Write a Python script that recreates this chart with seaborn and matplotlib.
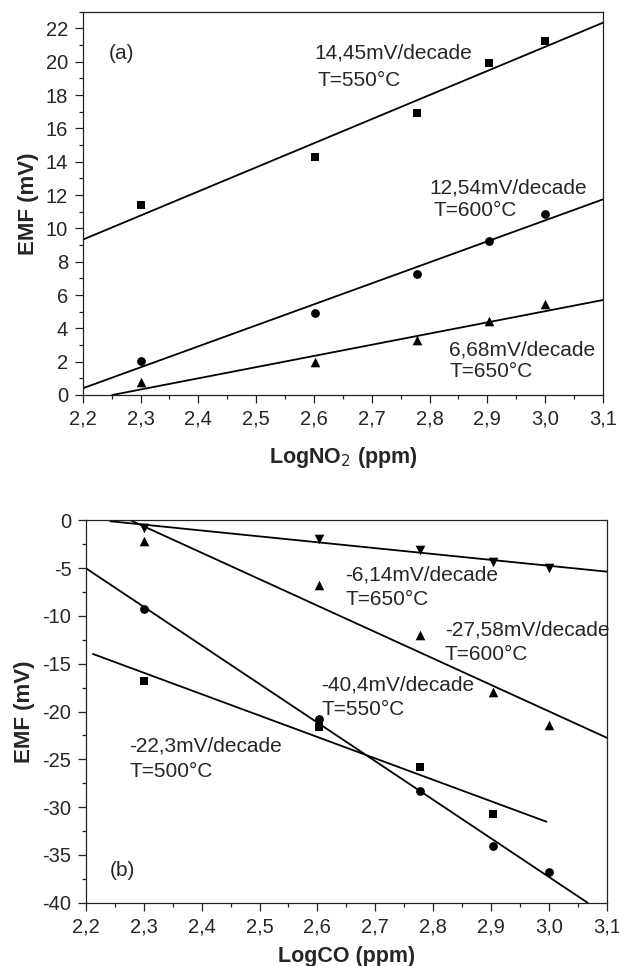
import numpy as np
import pandas as pd
import matplotlib
matplotlib.use('Agg')
import matplotlib.pyplot as plt
from matplotlib.ticker import MultipleLocator
import seaborn as sns

# --- data ---
log_conc = [2.301, 2.602, 2.778, 2.903, 3.0]

# (a) NO2
no2_550 = [11.4, 14.3, 16.95, 19.95, 21.25]
no2_600 = [2.05, 4.95, 7.25, 9.25, 10.85]
no2_650 = [0.75, 2.0, 3.3, 4.45, 5.45]

no2_fit_x = {'550': [2.2, 3.1], '600': [2.2, 3.1], '650': [2.251, 3.1]}
no2_fit_y = {'550': [9.32, 22.34], '600': [0.4, 11.74], '650': [0.0, 5.7]}

no2_text = ['(a)', '14,45mV/decade', 'T=550°C', '12,54mV/decade', 'T=600°C',
            '6,68mV/decade', 'T=650°C']
no2_text_x = [2.245, 2.601, 2.606, 2.80, 2.807, 2.834, 2.834]
no2_text_y = [20.5, 20.5, 18.9, 12.4, 11.06, 2.7, 1.4]

# (b) CO
co_650 = [-0.85, -1.95, -3.15, -4.4, -5.0]
co_600 = [-2.2, -6.8, -12.0, -18.0, -21.4]
co_550 = [-9.3, -20.8, -28.3, -34.1, -36.8]
co_500 = [-16.8, -21.6, -25.8, -30.75]

co_fit_x = {'650': [2.242, 3.1], '600': [2.277, 3.1], '550': [2.2, 3.067], '500': [2.212, 2.996]}
co_fit_y = {'650': [-0.1, -5.37], '600': [0.0, -22.74], '550': [-5.02, -40.0], '500': [-13.98, -31.53]}

co_text = ['-6,14mV/decade', 'T=650°C', '-27,58mV/decade', 'T=600°C',
           '-40,4mV/decade', 'T=550°C', '-22,3mV/decade', 'T=500°C', '(b)']
co_text_x = [2.648, 2.649, 2.82, 2.82, 2.607, 2.607, 2.275, 2.276, 2.241]
co_text_y = [-5.72, -8.33, -11.47, -14.02, -17.23, -19.77, -23.6, -26.3, -36.58]

x_ticks = [2.2, 2.3, 2.4, 2.5, 2.6, 2.7, 2.8, 2.9, 3.0, 3.1]
x_tick_labels = ['2,2', '2,3', '2,4', '2,5', '2,6', '2,7', '2,8', '2,9', '3,0', '3,1']

sns.set_theme(style='ticks')
plt.rcParams['font.family'] = ['Liberation Sans', 'DejaVu Sans']
plt.rcParams['axes.unicode_minus'] = False

fig = plt.figure(figsize=(6.19, 9.66), dpi=100)
ax1 = fig.add_axes([0.1336, 0.5911, 0.8406, 0.3968])
ax2 = fig.add_axes([0.1389, 0.0655, 0.8412, 0.3959])

marker_sizes = {'s': 32, 'o': 40, '^': 48, 'v': 48}


def draw_series(ax, ys, marker, fit_x, fit_y):
    sns.scatterplot(x=log_conc[:len(ys)], y=ys, marker=marker, color='black',
                    s=marker_sizes[marker], linewidth=0, ax=ax, zorder=3)
    sns.lineplot(x=fit_x, y=fit_y, color='black', linewidth=1.3, ax=ax,
                 estimator=None, sort=False, zorder=2)


def style_axes(ax):
    ax.set_xlim(2.2, 3.1)
    ax.set_xticks(x_ticks)
    ax.set_xticklabels(x_tick_labels)
    ax.xaxis.set_minor_locator(MultipleLocator(0.05))
    ax.tick_params(which='major', direction='out', length=5.5, width=0.9,
                   labelsize=14.5, pad=5, color='#222222', top=False, right=False)
    ax.tick_params(which='minor', direction='out', length=3, width=0.9,
                   color='#222222', top=False, right=False)
    for sp in ax.spines.values():
        sp.set_visible(True)
        sp.set_linewidth(0.9)
        sp.set_color('#222222')
    ax.set_ylabel('EMF (mV)', fontsize=16, fontweight='bold', labelpad=5)


# (a)
draw_series(ax1, no2_550, 's', no2_fit_x['550'], no2_fit_y['550'])
draw_series(ax1, no2_600, 'o', no2_fit_x['600'], no2_fit_y['600'])
draw_series(ax1, no2_650, '^', no2_fit_x['650'], no2_fit_y['650'])
style_axes(ax1)
ax1.set_ylim(0, 23)
ax1.yaxis.set_major_locator(MultipleLocator(2))
ax1.yaxis.set_minor_locator(MultipleLocator(1))
ax1.set_xlabel('LogNO$_2$ (ppm)', fontsize=15.5, fontweight='bold', labelpad=12)
for t, tx, ty in zip(no2_text, no2_text_x, no2_text_y):
    ax1.text(tx, ty, t, fontsize=15, ha='left', va='center')

# (b)
draw_series(ax2, co_650, 'v', co_fit_x['650'], co_fit_y['650'])
draw_series(ax2, co_600, '^', co_fit_x['600'], co_fit_y['600'])
draw_series(ax2, co_550, 'o', co_fit_x['550'], co_fit_y['550'])
draw_series(ax2, co_500, 's', co_fit_x['500'], co_fit_y['500'])
style_axes(ax2)
ax2.set_ylim(-40, 0)
ax2.yaxis.set_major_locator(MultipleLocator(5))
ax2.yaxis.set_minor_locator(MultipleLocator(2.5))
ax2.set_xlabel('LogCO (ppm)', fontsize=15.5, fontweight='bold', labelpad=7)
for t, tx, ty in zip(co_text, co_text_x, co_text_y):
    ax2.text(tx, ty, t, fontsize=15, ha='left', va='center')

fig.savefig('out.png', dpi=100)
